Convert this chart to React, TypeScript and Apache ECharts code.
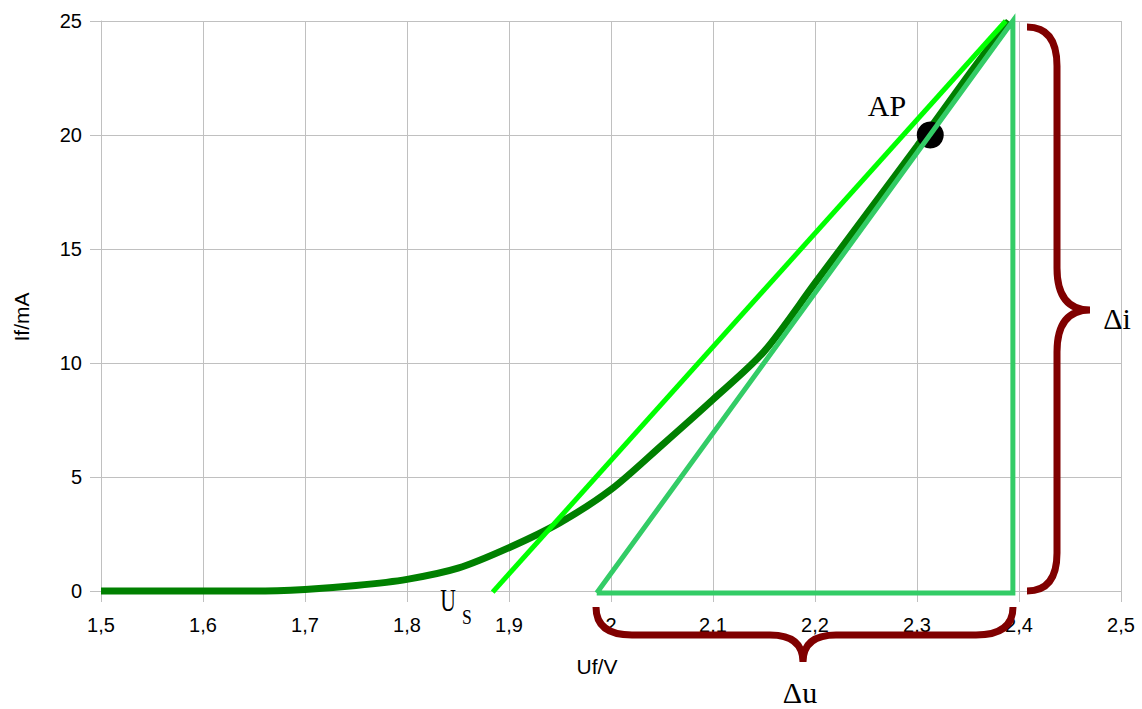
import React, { useEffect, useRef } from "react";
import * as echarts from "echarts";

// Diode characteristic If(Uf)
const curveU = [1.5, 1.6, 1.65, 1.7, 1.75, 1.8, 1.85, 1.9, 1.95, 2.0, 2.05, 2.1, 2.15, 2.2, 2.25, 2.3, 2.35, 2.39];
const curveI = [0, 0, 0, 0.07, 0.24, 0.51, 1.0, 1.9, 3.0, 4.45, 6.4, 8.4, 10.5, 13.5, 16.5, 19.5, 22.6, 25];

// Tangent line through threshold voltage U_S
const tangentU = [1.884, 2.387];
const tangentI = [-0.05, 25];

// Differential triangle (Δu, Δi)
const triU = [1.986, 2.394, 2.394, 1.986];
const triI = [-0.09, 25, -0.09, -0.09];

// Operating point AP
const apU = [2.313];
const apI = [20];

const xMin = 1.5, xMax = 2.5, xStep = 0.1;
const yMin = 0, yMax = 25, yStep = 5;

const BRACE_R =
  "M1027,27 Q1057,27 1057,66 L1057,268 Q1057,310 1090,310 Q1057,310 1057,352 L1057,553 Q1057,591 1027,591";
const BRACE_B =
  "M596,607 Q596,635 632,635 L770,635 Q803,635 803,662 Q803,635 836,635 L976,635 Q1013,635 1013,607";

echarts.graphic.registerShape("braceR", echarts.graphic.extendPath(BRACE_R, {}) as any);
echarts.graphic.registerShape("braceB", echarts.graphic.extendPath(BRACE_B, {}) as any);

const zip = (a: number[], b: number[]) => a.map((v, i) => [v, b[i]]);

export default function App() {
  const ref = useRef<HTMLDivElement>(null);
  useEffect(() => {
    if (!ref.current) return;
    const chart = echarts.init(ref.current, undefined, { renderer: "svg" });
    const grey = "#c0c0c0";
    const sans = "Liberation Sans";
    const serif = "Liberation Serif";
    const braceColor = "#800000";
    chart.setOption({
      animation: false,
      backgroundColor: "#ffffff",
      grid: { left: 101, top: 21, right: 21, bottom: 118, containLabel: false },
      xAxis: {
        type: "value",
        min: xMin,
        max: xMax,
        interval: xStep,
        name: "Uf/V",
        nameLocation: "middle",
        nameGap: 65,
        nameTextStyle: { color: "#000", fontSize: 21, fontFamily: sans, padding: [0, 28, 0, 0] },
        axisLine: { show: true, lineStyle: { color: grey, width: 1 } },
        axisTick: { show: true, length: 11, lineStyle: { color: grey } },
        axisLabel: {
          color: "#000",
          fontSize: 20,
          fontFamily: sans,
          margin: 24,
          formatter: (v: number) => String(Math.round(v * 10) / 10).replace(".", ","),
        },
        splitLine: { show: true, lineStyle: { color: grey, width: 1 } },
      },
      yAxis: {
        type: "value",
        min: yMin,
        max: yMax,
        interval: yStep,
        name: "If/mA",
        nameLocation: "middle",
        nameGap: 69,
        nameTextStyle: { color: "#000", fontSize: 21, fontFamily: sans, padding: [0, 22, 0, 0] },
        axisLine: { show: true, lineStyle: { color: grey, width: 1 } },
        axisTick: { show: true, length: 11, lineStyle: { color: grey } },
        axisLabel: { color: "#000", fontSize: 20, fontFamily: sans, margin: 19 },
        splitLine: { show: true, lineStyle: { color: grey, width: 1 } },
      },
      series: [
        {
          name: "If",
          type: "line",
          data: zip(curveU, curveI),
          smooth: 0.3,
          showSymbol: false,
          symbol: "none",
          clip: false,
          lineStyle: { color: "#008000", width: 7, cap: "butt" },
          z: 2,
        },
        {
          name: "Tangente",
          type: "line",
          data: zip(tangentU, tangentI),
          showSymbol: false,
          symbol: "none",
          clip: false,
          lineStyle: { color: "#00ff00", width: 5 },
          z: 3,
        },
        {
          name: "AP",
          type: "scatter",
          data: zip(apU, apI),
          symbolSize: 27,
          itemStyle: { color: "#000000", opacity: 1 },
          z: 4,
        },
        {
          name: "Dreieck",
          type: "line",
          data: zip(triU, triI),
          showSymbol: false,
          symbol: "none",
          clip: false,
          lineStyle: { color: "#33cc66", width: 5, join: "miter" },
          z: 5,
        },
      ],
      graphic: [
        { type: "braceR", x: 0, y: 0, z: 10, style: { fill: null, stroke: braceColor, lineWidth: 7 } },
        { type: "braceB", x: 0, y: 0, z: 10, style: { fill: null, stroke: braceColor, lineWidth: 7 } },
        {
          type: "text", x: 887, y: 105, z: 10,
          style: { text: "AP", fontSize: 30, fontFamily: serif, fill: "#000", align: "center", verticalAlign: "middle" },
        },
        {
          type: "text", x: 1117, y: 318, z: 10,
          style: { text: "Δi", fontSize: 30, fontFamily: serif, fill: "#000", align: "center", verticalAlign: "middle" },
        },
        {
          type: "text", x: 800, y: 692, z: 10,
          style: { text: "Δu", fontSize: 30, fontFamily: serif, fill: "#000", align: "center", verticalAlign: "middle" },
        },
        {
          type: "text", x: 448, y: 601, z: 10, scaleX: 0.7,
          style: { text: "U", fontSize: 31, fontFamily: serif, fill: "#000", align: "center", verticalAlign: "middle" },
        },
        {
          type: "text", x: 467, y: 616, z: 10, scaleX: 0.8,
          style: { text: "S", fontSize: 22, fontFamily: serif, fill: "#000", align: "center", verticalAlign: "middle" },
        },
      ],
    });
    return () => chart.dispose();
  }, []);
  return (
    <div
      ref={ref}
      style={{ position: "absolute", left: 0, top: 0, width: 1142, height: 709, background: "#fff" }}
    />
  );
}
